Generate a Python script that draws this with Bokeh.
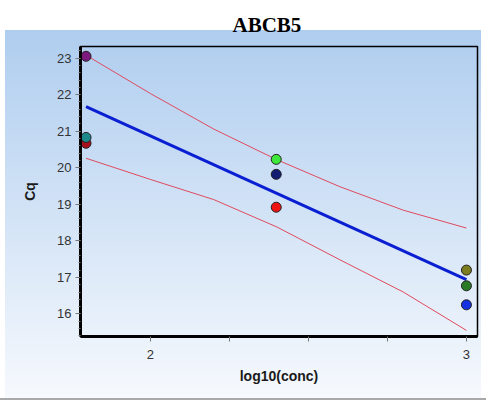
from bokeh.plotting import figure
from bokeh.models import ColumnDataSource, FixedTicker
from bokeh.embed import file_html
from bokeh.resources import INLINE

# Standard curve for ABCB5: Cq against log10 of the dilution concentration
conc_log = [1.796, 1.796, 1.796, 2.398, 2.398, 2.398, 3.0, 3.0, 3.0]
cq = [23.05, 20.67, 20.83, 20.23, 19.82, 18.92, 17.20, 16.77, 16.25]
point_colors = ["#7d1a7d", "#a8101e", "#1c8a8a", "#3ee83a", "#121c72",
                "#ee1414", "#7c7c20", "#2b7a26", "#1432e0"]

# Fitted line and its confidence band
fit_x = [1.796, 3.0]
fit_y = [21.67, 16.94]
band_x = [1.796, 2.0, 2.2, 2.4, 2.6, 2.8, 3.0]
band_upper = [23.08, 22.03, 21.06, 20.22, 19.48, 18.84, 18.35]
band_lower = [20.26, 19.68, 19.13, 18.38, 17.48, 16.60, 15.55]

x_ticks = [2.0, 2.25, 2.5, 2.75, 3.0]
y_ticks = [16, 17, 18, 19, 20, 21, 22, 23]

W, H = 486, 403
p = figure(width=W, height=H, output_backend="svg", toolbar_location=None,
           x_range=(1.7785, 3.035), y_range=(15.383, 23.318),
           min_border_left=80, min_border_right=9,
           min_border_top=44, min_border_bottom=67)

# light blue panel fading to white, with a grey rule beneath it
p.styles = {
    "background": (
        "linear-gradient(#a9a9a9, #a9a9a9) 0px 398px / 486px 2px no-repeat, "
        "linear-gradient(#afcdef, #f6f9fd) 5px 30px / 476px 368px no-repeat, "
        "#ffffff"
    )
}
p.background_fill_alpha = 0
p.border_fill_alpha = 0
p.outline_line_color = "black"
p.outline_line_width = 1.5
p.grid.visible = False

p.title.text = "ABCB5"
p.title.text_font = "Liberation Serif"
p.title.text_font_size = "21px"
p.title.text_font_style = "bold"
p.title.text_color = "black"
p.title.align = "left"
p.title.offset = 152
p.title.standoff = 20

font = "Liberation Sans"
for ax in (p.xaxis, p.yaxis):
    ax.axis_line_width = 3
    ax.axis_line_color = "black"
    ax.major_label_text_font = font
    ax.major_label_text_font_size = "13px"
    ax.major_label_text_color = "#333333"
    ax.axis_label_text_font = font
    ax.axis_label_text_font_size = "14px"
    ax.axis_label_text_font_style = "bold"
    ax.axis_label_text_color = "#1a1a1a"
    ax.major_tick_line_color = "#777777"
    ax.major_tick_in = 0
    ax.major_tick_out = 5

p.xaxis.ticker = FixedTicker(ticks=x_ticks)
p.xaxis.major_label_overrides = {2.25: "", 2.5: "", 2.75: ""}
p.xaxis.minor_tick_line_color = None
p.xaxis.major_label_standoff = 8
p.xaxis.axis_label = "log10(conc)"
p.xaxis.axis_label_standoff = 6

p.yaxis.ticker = FixedTicker(ticks=y_ticks,
                             minor_ticks=[15.4 + 0.2 * i for i in range(40)])
p.yaxis.minor_tick_in = 0
p.yaxis.minor_tick_out = 2
p.yaxis.minor_tick_line_color = "#777777"
p.yaxis.major_label_standoff = 4
p.yaxis.axis_label = "Cq"
p.yaxis.axis_label_standoff = 16

p.line(band_x, band_upper, line_color="#e04a5e", line_width=1)
p.line(band_x, band_lower, line_color="#e04a5e", line_width=1)
p.line(fit_x, fit_y, line_color="#0a1fd2", line_width=3)

src = ColumnDataSource(dict(x=conc_log, y=cq, c=point_colors))
p.scatter("x", "y", source=src, size=10, fill_color="c",
          line_color="#222222", line_width=1)

open("out.html", "w").write(file_html(p, INLINE))
